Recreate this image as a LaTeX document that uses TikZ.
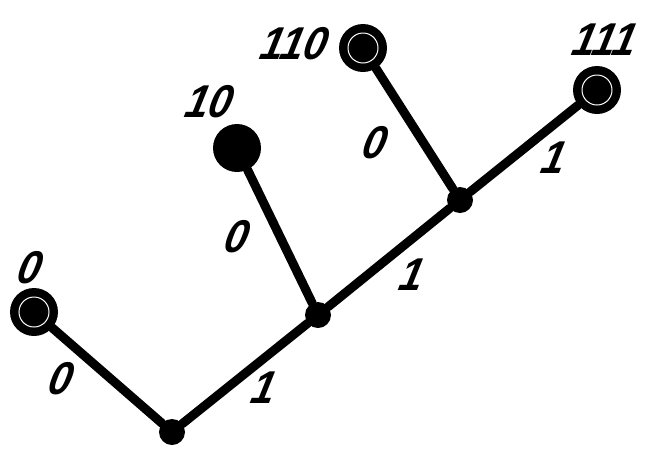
\documentclass[tikz,border=0pt]{standalone}
\usepackage{fontspec}
\setmainfont{Liberation Sans}
\begin{document}
\begin{tikzpicture}[x=1pt,y=-1pt,
  edge/.style={line width=9pt, line cap=round},
  leaf/.style={circle, fill=black, minimum size=48pt, inner sep=0pt},
  inner/.style={circle, fill=black, minimum size=26pt, inner sep=0pt},
  ring/.style={draw=white, line width=1pt},
  lab/.style={font=\fontsize{46}{46}\selectfont\bfseries\itshape, inner sep=0pt, xscale=0.9, xslant=0.25}]
\useasboundingbox (0,0) rectangle (654,451);
% nodes
\node[inner] (r) at (172,432) {};
\node[inner] (a) at (318,315) {};
\node[inner] (b) at (460,200) {};
\node[leaf] (l0) at (34,312) {};
\node[leaf] (l10) at (237,148) {};
\node[leaf] (l110) at (363,48) {};
\node[leaf] (l111) at (597,90) {};
% edges
\draw[edge] (r) -- (l0);
\draw[edge] (r) -- (a);
\draw[edge] (a) -- (l10);
\draw[edge] (a) -- (b);
\draw[edge] (b) -- (l110);
\draw[edge] (b) -- (l111);
% rings
\draw[ring] (l0.center) circle (15pt);
\draw[ring] (l110.center) circle (15pt);
\draw[ring] (l111.center) circle (15pt);
% leaf labels
\node[lab] (t0) at (31,268) {0};
\node[lab] (t10) at (210,102) {10};
\node[lab] (t110) at (295,44) {110};
\node[lab] (t111) at (606,40) {111};
% edge labels
\node[lab] (e1) at (62,379) {0};
\node[lab] (e2) at (265,388) {1};
\node[lab] (e3) at (238,237) {0};
\node[lab] (e4) at (413,275) {1};
\node[lab] (e5) at (376,143) {0};
\node[lab] (e6) at (555,158) {1};
\end{tikzpicture}
\end{document}
